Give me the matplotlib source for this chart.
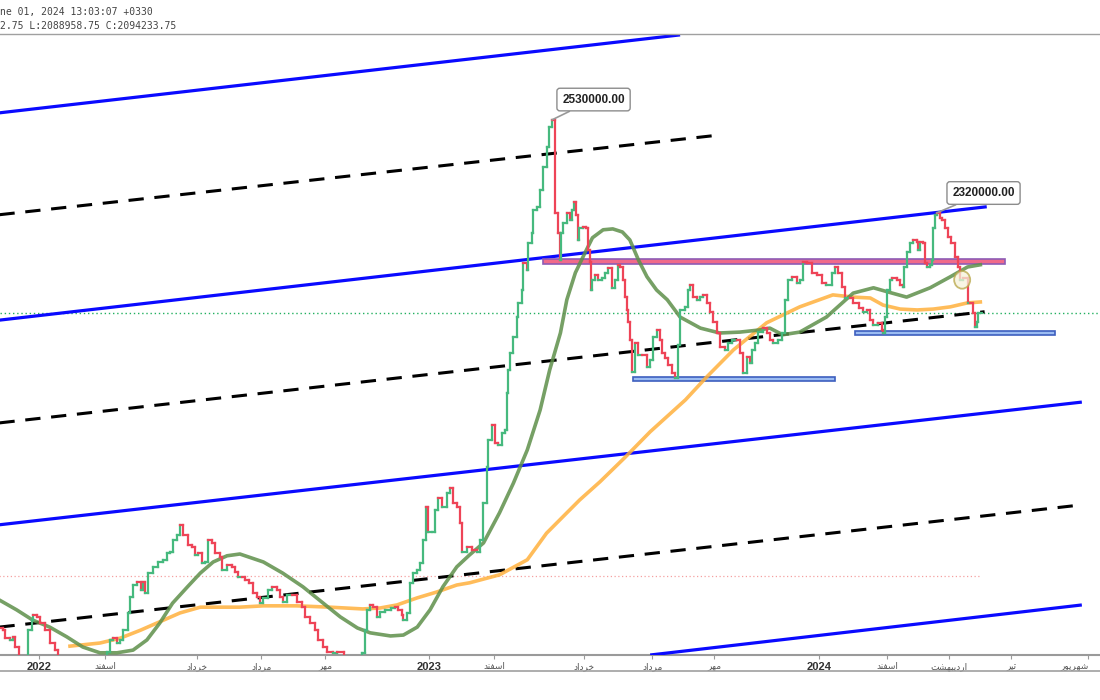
import numpy as np
import matplotlib.pyplot as plt
from matplotlib.collections import LineCollection
from matplotlib.patches import Rectangle, Ellipse

# ---- data (days are counted from 2022-01-01) ----
bar_day = [-37, -34, -32, -27, -24, -22, -19, -12, -10, -7, -6, -2, 1, 6, 10, 15, 18, 24, 38, 52,
           61, 64, 66, 69, 73, 76, 79, 83, 85, 88, 92, 95, 97, 99, 102, 107, 111, 116, 120, 123,
           125, 129, 132, 135, 139, 143, 146, 149, 153, 155, 158, 162, 165, 169, 171, 176, 181, 183, 186, 190,
           193, 197, 200, 204, 207, 210, 214, 218, 223, 226, 228, 232, 237, 241, 246, 249, 254, 258, 261, 266,
           270, 275, 279, 285, 291, 298, 302, 305, 307, 310, 313, 316, 319, 324, 329, 333, 336, 340, 341, 344,
           347, 350, 354, 357, 359, 362, 364, 368, 371, 373, 377, 382, 385, 387, 391, 394, 396, 401, 405, 410,
           413, 416, 419, 420, 424, 427, 430, 433, 436, 438, 439, 441, 444, 447, 448, 452, 453, 457, 458, 461,
           462, 466, 469, 472, 475, 477, 480, 483, 486, 488, 489, 490, 494, 497, 499, 501, 503, 504, 505, 509,
           512, 514, 516, 517, 518, 520, 523, 527, 530, 533, 536, 539, 542, 544, 547, 548, 550, 551, 553, 555,
           558, 561, 564, 569, 572, 575, 578, 581, 583, 586, 589, 592, 595, 598, 600, 605, 607, 609, 612, 616,
           619, 621, 625, 628, 631, 635, 637, 642, 645, 649, 653, 656, 659, 663, 665, 667, 670, 673, 678, 681,
           684, 687, 692, 695, 698, 701, 705, 709, 712, 715, 719, 723, 728, 733, 737, 742, 745, 748, 752, 754,
           759, 762, 767, 771, 775, 778, 781, 785, 789, 790, 792, 794, 796, 798, 803, 806, 809, 810, 812, 815,
           818, 822, 823, 825, 827, 829, 831, 834, 836, 837, 839, 840, 843, 845, 848, 851, 854, 857, 860, 862,
           865, 869, 871, 874, 876, 878, 879, 883]
close = [1383000, 1378000, 1360000, 1356000, 1363000, 1340000, 1306000, 1299000, 1378000, 1401000,
         1412000, 1408000, 1394000, 1378000, 1349000, 1333000, 1311000, 1266000, 1243000, 1254000,
         1299000, 1329000, 1356000, 1360000, 1349000, 1356000, 1378000, 1417000, 1453000, 1480000,
         1487000, 1469000, 1487000, 1462000, 1507000, 1521000, 1532000, 1537000, 1552000, 1555000,
         1582000, 1593000, 1616000, 1593000, 1570000, 1566000, 1548000, 1552000, 1530000, 1532000,
         1582000, 1575000, 1552000, 1543000, 1514000, 1525000, 1521000, 1509000, 1498000, 1498000,
         1491000, 1485000, 1462000, 1453000, 1439000, 1451000, 1469000, 1476000, 1469000, 1453000,
         1442000, 1457000, 1457000, 1442000, 1430000, 1408000, 1394000, 1378000, 1356000, 1340000,
         1329000, 1327000, 1329000, 1315000, 1293000, 1299000, 1327000, 1378000, 1424000, 1435000,
         1430000, 1408000, 1419000, 1424000, 1428000, 1430000, 1424000, 1412000, 1401000, 1417000,
         1485000, 1507000, 1514000, 1530000, 1582000, 1656000, 1600000, 1600000, 1649000, 1677000,
         1656000, 1688000, 1699000, 1665000, 1656000, 1620000, 1555000, 1566000, 1559000, 1555000,
         1582000, 1665000, 1747000, 1807000, 1841000, 1801000, 1796000, 1823000, 1830000, 1914000,
         1966000, 2004000, 2040000, 2085000, 2117000, 2146000, 2207000, 2191000, 2252000, 2275000,
         2327000, 2334000, 2372000, 2424000, 2469000, 2514000, 2530000, 2320000, 2275000, 2214000,
         2275000, 2297000, 2320000, 2304000, 2327000, 2345000, 2316000, 2259000, 2286000, 2288000,
         2286000, 2237000, 2209000, 2146000, 2169000, 2180000, 2169000, 2173000, 2185000, 2196000,
         2151000, 2169000, 2203000, 2198000, 2169000, 2130000, 2101000, 2074000, 2033000, 1961000,
         2027000, 1999000, 1999000, 1972000, 1988000, 2040000, 2056000, 2033000, 2004000, 1993000,
         1977000, 1959000, 1947000, 2022000, 2101000, 2108000, 2146000, 2157000, 2130000, 2124000,
         2130000, 2135000, 2117000, 2097000, 2074000, 2049000, 2017000, 2011000, 2027000, 2033000,
         2033000, 2004000, 1959000, 1995000, 1981000, 2011000, 2027000, 2051000, 2060000, 2049000,
         2033000, 2027000, 2033000, 2049000, 2124000, 2169000, 2176000, 2162000, 2169000, 2209000,
         2207000, 2185000, 2180000, 2162000, 2157000, 2185000, 2198000, 2185000, 2153000, 2128000,
         2128000, 2117000, 2106000, 2097000, 2101000, 2078000, 2067000, 2072000, 2056000, 2049000,
         2085000, 2146000, 2169000, 2173000, 2169000, 2157000, 2153000, 2198000, 2232000, 2252000,
         2259000, 2255000, 2237000, 2255000, 2252000, 2207000, 2198000, 2203000, 2214000, 2286000,
         2316000, 2320000, 2309000, 2304000, 2286000, 2266000, 2252000, 2221000, 2198000, 2169000,
         2173000, 2117000, 2117000, 2094000, 2063000, 2074000, 2094000, 2094234]

ma_fast_day = [-37, -21, -6, 10, 26, 41, 57, 73, 88, 101, 113, 125, 139, 151, 163, 176, 188, 210, 228, 247,
               266, 282, 298, 310, 329, 341, 354, 366, 378, 391, 403, 416, 431, 444, 457, 469, 478, 488, 494, 502,
               511, 518, 528, 537, 546, 553, 561, 569, 578, 588, 600, 619, 637, 656, 675, 684, 696, 712, 737, 762,
               781, 794, 812, 834, 853, 869, 881]
ma_fast = [1446000, 1424000, 1401000, 1385000, 1363000, 1340000, 1327000, 1327000, 1333000, 1356000,
           1394000, 1439000, 1476000, 1507000, 1532000, 1546000, 1550000, 1532000, 1507000, 1476000,
           1439000, 1408000, 1383000, 1372000, 1365000, 1367000, 1385000, 1424000, 1476000, 1521000,
           1548000, 1575000, 1643000, 1710000, 1785000, 1875000, 1966000, 2049000, 2124000, 2185000,
           2230000, 2264000, 2282000, 2284000, 2277000, 2259000, 2214000, 2176000, 2146000, 2124000,
           2085000, 2060000, 2049000, 2051000, 2056000, 2060000, 2045000, 2051000, 2085000, 2139000,
           2151000, 2142000, 2130000, 2151000, 2176000, 2198000, 2203000]

ma_slow_day = [29, 57, 76, 95, 113, 132, 151, 188, 210, 241, 272, 303, 319, 335, 354, 372, 391, 403, 431, 457,
               475, 494, 506, 525, 548, 572, 605, 625, 650, 681, 712, 743, 762, 778, 790, 806, 822, 837, 853, 869,
               881]
ma_slow = [1342000, 1349000, 1360000, 1378000, 1397000, 1417000, 1430000, 1430000, 1433000, 1433000,
           1430000, 1426000, 1428000, 1435000, 1451000, 1464000, 1480000, 1485000, 1503000, 1537000,
           1597000, 1643000, 1672000, 1713000, 1767000, 1826000, 1898000, 1950000, 2011000, 2072000,
           2108000, 2135000, 2130000, 2128000, 2112000, 2103000, 2101000, 2103000, 2108000, 2117000,
           2119000]

# channel lines: (day0, price0, day1, price1)
channel_solid = [(-37, 2546000, 600, 2722000),
                 (-37, 2078000, 887, 2334000),
                 (-37, 1616000, 976, 1893000),
                 (572, 1322000, 976, 1435000)]
channel_mid = [(-37, 2316000, 637, 2496000),
               (-37, 1846000, 885, 2097000),
               (-37, 1385000, 976, 1661000)]

resistance = (472, 904, 2204000, 2215000)
supports = [(556, 745, 1941000, 1950000),
            (764, 951, 2045000, 2054000)]
last_close = 2094234
old_level = 1500000

tick_days = [0, 62, 148, 208, 268, 365, 426, 510, 574, 632, 730, 794, 852, 910, 982]
# Persian month names written in presentation forms (visual order)
esfand = '\ufeaa\ufee8\ufed4\ufeb3\ufe8d'
khordad = '\ufea9\ufe8d\ufea9\ufeae\ufea7'
mordad = '\ufea9\ufe8d\ufea9\ufeae\ufee3'
mehr = '\ufeae\ufeec\ufee3'
ordibehesht = '\ufe96\ufeb8\ufeec\ufe92\ufef3\ufea9\ufead\ufe8d'
tir = '\ufeae\ufef4\ufe97'
shahrivar = '\ufead\ufeee\ufef3\ufeae\ufeec\ufeb7'
tick_labels = ['2022', esfand, khordad, mordad, mehr, '2023', esfand, khordad, mordad, mehr,
               '2024', esfand, ordibehesht, tir, shahrivar]

# ---- figure ----
fig = plt.figure(figsize=(11, 7), dpi=100)
ax = fig.add_axes([0, 45 / 700, 1, 621 / 700])
ax.set_xlim(-36.5, 993)
ax.set_ylim(1322000, 2724000)

for d0, p0, d1, p1 in channel_solid:
    ax.plot([d0, d1], [p0, p1], color='#0a0aff', lw=2.3, solid_capstyle='butt', zorder=3)
for d0, p0, d1, p1 in channel_mid:
    ax.plot([d0, d1], [p0, p1], color='black', lw=2.2, ls=(0, (5, 3.5)), zorder=3)

ax.axhline(last_close, color='#22b060', lw=1.0, ls=(0, (1, 2)), zorder=1)
ax.plot([-37, 881], [old_level, old_level], color='#f5a0a0', lw=0.9, ls=(0, (1, 2)), zorder=1)

d0, d1, lo, hi = resistance
ax.add_patch(Rectangle((d0, lo), d1 - d0, hi - lo, fc='#f06a8a', ec='#8e5bb5', lw=1.2, zorder=4))
for d0, d1, lo, hi in supports:
    ax.add_patch(Rectangle((d0, lo), d1 - d0, hi - lo, fc='#9bbcf2', ec='#3d5fbf', lw=1.2, zorder=4))

ax.plot(ma_slow_day, ma_slow, color='#ffb13d', lw=2.6, alpha=0.85, solid_joinstyle='round', zorder=5)
ax.plot(ma_fast_day, ma_fast, color='#5e8f4a', lw=2.6, alpha=0.85, solid_joinstyle='round', zorder=5)

# price path drawn as steps, coloured by direction
segs, cols = [], []
for i in range(1, len(close)):
    up = close[i] >= close[i - 1]
    c = '#46b97e' if up else '#ee4457'
    segs.append([(bar_day[i - 1], close[i - 1]), (bar_day[i], close[i - 1])])
    segs.append([(bar_day[i], close[i - 1]), (bar_day[i], close[i])])
    cols += [c, c]
ax.add_collection(LineCollection(segs, colors=cols, linewidths=1.6, capstyle='projecting', zorder=6))

ax.add_patch(Ellipse((864, 2169000), 15, 40000, fc='#f6f2da', ec='#b7a545', lw=1.3, alpha=0.75, zorder=7))

box = dict(boxstyle='round,pad=0.45,rounding_size=0.25', fc='white', ec='#8c8c8c', lw=1)
ax.annotate('2530000.00', xy=(480, 2530000), xytext=(519, 2576000), ha='center', va='center',
            fontsize=8.5, fontweight='bold', family='Liberation Sans', color='#222', bbox=box,
            arrowprops=dict(arrowstyle='-', color='#999999', lw=1.2, shrinkA=0, shrinkB=0), zorder=8)
ax.annotate('2320000.00', xy=(840, 2320000), xytext=(884, 2365000), ha='center', va='center',
            fontsize=8.5, fontweight='bold', family='Liberation Sans', color='#222', bbox=box,
            arrowprops=dict(arrowstyle='-', color='#999999', lw=1.2, shrinkA=0, shrinkB=0), zorder=8)

# axes styling
for s in ['top', 'left', 'right']:
    ax.spines[s].set_visible(False)
ax.spines['bottom'].set_color('#9a9a9a')
ax.spines['bottom'].set_linewidth(1.5)
ax.set_yticks([])
ax.set_xticks(tick_days)
ax.set_xticklabels(tick_labels)
ax.tick_params(axis='x', length=3, color='#9a9a9a', pad=2)
labels = ax.get_xticklabels()
for lab in labels:
    if lab.get_text().isdigit():
        lab.set_fontsize(8)
        lab.set_fontweight('bold')
        lab.set_color('#333333')
        lab.set_family('Liberation Sans')
    else:
        lab.set_fontsize(6.5)
        lab.set_color('#555555')
        lab.set_family('DejaVu Sans')
labels[-1].set_horizontalalignment('right')
labels[-1].set_x(993)

# header and frame lines
fig.add_artist(plt.Line2D([0, 1], [1 - 34 / 700, 1 - 34 / 700], color='#a0a0a0', lw=1))
fig.add_artist(plt.Line2D([0, 1], [1 - 671 / 700, 1 - 671 / 700], color='#a0a0a0', lw=1.2))
fig.text(0.0, 1 - 12 / 700, 'ne 01, 2024 13:03:07 +0330', family='DejaVu Sans Mono',
         fontsize=7, color='#444444', va='center')
fig.text(0.0, 1 - 26 / 700, '2.75 L:2088958.75 C:2094233.75', family='DejaVu Sans Mono',
         fontsize=7, color='#444444', va='center')

fig.savefig('out.png', dpi=100)
